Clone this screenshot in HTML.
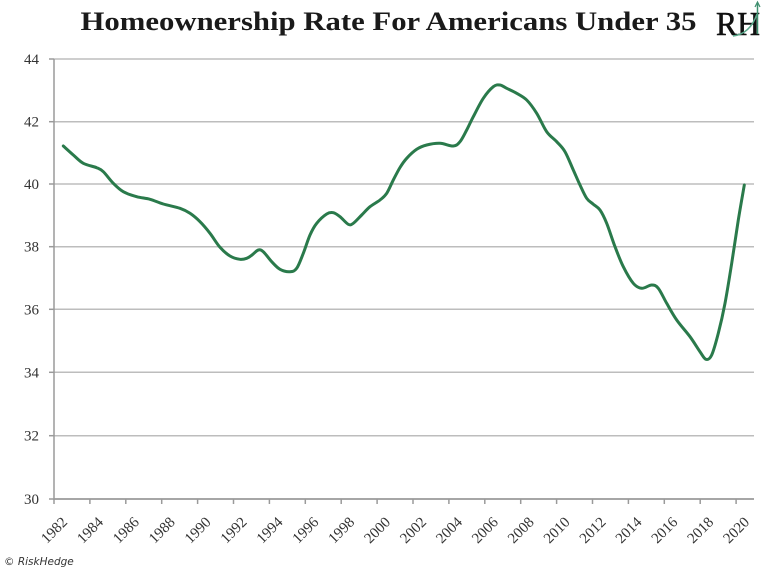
<!DOCTYPE html>
<html>
<head>
<meta charset="utf-8">
<style>
  html, body { margin:0; padding:0; background:#fff; }
  body { width:768px; height:570px; overflow:hidden; }
  svg { display:block; }
</style>
</head>
<body>
<svg width="768" height="570" viewBox="0 0 768 570" xmlns="http://www.w3.org/2000/svg">
  <rect width="768" height="570" fill="#fff"/>
  <!-- Title -->
  <text x="80.5" y="30" font-family="Liberation Serif, serif" font-weight="bold" font-size="26" fill="#1a1a1a" textLength="616" lengthAdjust="spacingAndGlyphs">Homeownership Rate For Americans Under 35</text>
  <!-- Logo -->
  <text x="716" y="35" font-family="Liberation Serif, serif" font-size="34" fill="#111" stroke="#111" stroke-width="0.6" textLength="44" lengthAdjust="spacingAndGlyphs">RH</text>
  <path d="M733 36 Q750 34 757 14" stroke="#5aa88a" stroke-width="1.5" fill="none"/>
  <line x1="757.5" y1="3" x2="757.5" y2="34" stroke="#3e8f6e" stroke-width="1.5"/>
  <path d="M755 7 L757.5 2 L760 7" stroke="#3e8f6e" stroke-width="1.2" fill="none"/>

  <!-- Gridlines -->
  <g stroke="#bdbdbd" stroke-width="1.5">
    <line x1="54" y1="59" x2="754" y2="59"/>
    <line x1="54" y1="121.7" x2="754" y2="121.7"/>
    <line x1="54" y1="184" x2="754" y2="184"/>
    <line x1="54" y1="246.7" x2="754" y2="246.7"/>
    <line x1="54" y1="309.3" x2="754" y2="309.3"/>
    <line x1="54" y1="372.3" x2="754" y2="372.3"/>
    <line x1="54" y1="435.7" x2="754" y2="435.7"/>
  </g>
  <!-- Y ticks -->
  <g stroke="#9a9a9a" stroke-width="1.5">
    <line x1="49" y1="59" x2="54" y2="59"/>
    <line x1="49" y1="121.7" x2="54" y2="121.7"/>
    <line x1="49" y1="184" x2="54" y2="184"/>
    <line x1="49" y1="246.7" x2="54" y2="246.7"/>
    <line x1="49" y1="309.3" x2="54" y2="309.3"/>
    <line x1="49" y1="372.3" x2="54" y2="372.3"/>
    <line x1="49" y1="435.7" x2="54" y2="435.7"/>
    <line x1="49" y1="499" x2="54" y2="499"/>
  </g>
  <!-- Axes -->
  <line x1="54" y1="59" x2="54" y2="500" stroke="#9a9a9a" stroke-width="1.5"/>
  <line x1="54" y1="499" x2="754" y2="499" stroke="#9a9a9a" stroke-width="1.8"/>
  <!-- X ticks -->
  <g stroke="#9a9a9a" stroke-width="1.5">
    <line x1="54" y1="499" x2="54" y2="504"/>
    <line x1="89.9" y1="499" x2="89.9" y2="504"/>
    <line x1="125.8" y1="499" x2="125.8" y2="504"/>
    <line x1="161.7" y1="499" x2="161.7" y2="504"/>
    <line x1="197.6" y1="499" x2="197.6" y2="504"/>
    <line x1="233.5" y1="499" x2="233.5" y2="504"/>
    <line x1="269.4" y1="499" x2="269.4" y2="504"/>
    <line x1="305.3" y1="499" x2="305.3" y2="504"/>
    <line x1="341.2" y1="499" x2="341.2" y2="504"/>
    <line x1="377.1" y1="499" x2="377.1" y2="504"/>
    <line x1="413" y1="499" x2="413" y2="504"/>
    <line x1="448.9" y1="499" x2="448.9" y2="504"/>
    <line x1="484.8" y1="499" x2="484.8" y2="504"/>
    <line x1="520.7" y1="499" x2="520.7" y2="504"/>
    <line x1="556.6" y1="499" x2="556.6" y2="504"/>
    <line x1="592.5" y1="499" x2="592.5" y2="504"/>
    <line x1="628.4" y1="499" x2="628.4" y2="504"/>
    <line x1="664.3" y1="499" x2="664.3" y2="504"/>
    <line x1="700.2" y1="499" x2="700.2" y2="504"/>
    <line x1="736.1" y1="499" x2="736.1" y2="504"/>
  </g>
  <!-- Y labels -->
  <g font-family="Liberation Serif, serif" font-size="15" fill="#333" text-anchor="end">
    <text x="39" y="64">44</text>
    <text x="39" y="126.7">42</text>
    <text x="39" y="189">40</text>
    <text x="39" y="251.7">38</text>
    <text x="39" y="314.3">36</text>
    <text x="39" y="377.3">34</text>
    <text x="39" y="440.7">32</text>
    <text x="39" y="504">30</text>
  </g>
  <!-- X labels -->
  <g font-family="Liberation Serif, serif" font-size="15" fill="#333" text-anchor="middle">
    <text x="54" y="535" transform="rotate(-45 54 530)">1982</text>
    <text x="89.9" y="535" transform="rotate(-45 89.9 530)">1984</text>
    <text x="125.8" y="535" transform="rotate(-45 125.8 530)">1986</text>
    <text x="161.7" y="535" transform="rotate(-45 161.7 530)">1988</text>
    <text x="197.6" y="535" transform="rotate(-45 197.6 530)">1990</text>
    <text x="233.5" y="535" transform="rotate(-45 233.5 530)">1992</text>
    <text x="269.4" y="535" transform="rotate(-45 269.4 530)">1994</text>
    <text x="305.3" y="535" transform="rotate(-45 305.3 530)">1996</text>
    <text x="341.2" y="535" transform="rotate(-45 341.2 530)">1998</text>
    <text x="377.1" y="535" transform="rotate(-45 377.1 530)">2000</text>
    <text x="413" y="535" transform="rotate(-45 413 530)">2002</text>
    <text x="448.9" y="535" transform="rotate(-45 448.9 530)">2004</text>
    <text x="484.8" y="535" transform="rotate(-45 484.8 530)">2006</text>
    <text x="520.7" y="535" transform="rotate(-45 520.7 530)">2008</text>
    <text x="556.6" y="535" transform="rotate(-45 556.6 530)">2010</text>
    <text x="592.5" y="535" transform="rotate(-45 592.5 530)">2012</text>
    <text x="628.4" y="535" transform="rotate(-45 628.4 530)">2014</text>
    <text x="664.3" y="535" transform="rotate(-45 664.3 530)">2016</text>
    <text x="700.2" y="535" transform="rotate(-45 700.2 530)">2018</text>
    <text x="736.1" y="535" transform="rotate(-45 736.1 530)">2020</text>
  </g>

  <!-- Series -->
  <polyline id="series" fill="none" stroke="#2a7a4b" stroke-width="3" stroke-linejoin="round" stroke-linecap="round"
    points="63.3,146 73.3,155 83.3,163.3 96.7,167.7 103.3,171.7 113.3,183.3 123.3,191.7 136.7,196.7 150,199.3 163.3,204 180,208.3 190,213.3 200,221.7 210,233.3 220,247.3 230,256 240,259.3 246.7,258.3 252,255 258.3,250 263.3,251.7 271.7,261.7 280,269.3 290,271.7 296.7,268.3 303.3,253.3 310,235 316.7,223.3 326.7,214 333.3,212.7 340,216.7 348.3,224.3 353.3,223.3 361.7,215 370,206.7 380,200 386.7,193.3 393.3,180 400,167.5 406.7,158.3 416.7,149.3 426.7,145 440,143.3 453.3,146 460,141.7 466.7,130 473.3,116.7 483.3,98.3 493.3,86.7 500,85 506.7,88.3 516.7,93.3 526.7,100 536.7,113.3 546.7,131.7 556.7,141.7 565,151.7 573.3,170 580,185 586.7,198.3 593,204 600,210 606.7,223.3 615,246.7 623.3,266.7 633.3,283.3 641.7,288.3 651.7,285 658.3,288.3 666.7,303.3 676.7,320 690,336.7 700,351.7 706,359.3 711.7,355 718.3,333.3 725,303.3 731.7,263.3 738.3,220 744.3,185"/>

  <!-- Footer -->
  <text x="4" y="565" font-family="DejaVu Sans, Liberation Sans, sans-serif" font-style="italic" font-size="10.5" fill="#333">© RiskHedge</text>
</svg>
<script>
(function(){
  try {
    var pl = document.getElementById('series');
    var pts = pl.getAttribute('points').trim().split(/\s+/).map(function(s){var a=s.split(',');return [parseFloat(a[0]),parseFloat(a[1])];});
    var d = 'M' + pts[0][0] + ',' + pts[0][1];
    for (var i=0;i<pts.length-1;i++){
      var p0 = pts[i-1]||pts[i], p1=pts[i], p2=pts[i+1], p3=pts[i+2]||pts[i+1];
      var c1x = p1[0]+(p2[0]-p0[0])/6, c1y = p1[1]+(p2[1]-p0[1])/6;
      var c2x = p2[0]-(p3[0]-p1[0])/6, c2y = p2[1]-(p3[1]-p1[1])/6;
      d += ' C'+c1x.toFixed(2)+','+c1y.toFixed(2)+' '+c2x.toFixed(2)+','+c2y.toFixed(2)+' '+p2[0]+','+p2[1];
    }
    var path = document.createElementNS('http://www.w3.org/2000/svg','path');
    path.setAttribute('d', d);
    path.setAttribute('fill','none');
    path.setAttribute('stroke','#2a7a4b');
    path.setAttribute('stroke-width','3');
    path.setAttribute('stroke-linejoin','round');
    path.setAttribute('stroke-linecap','round');
    pl.parentNode.replaceChild(path, pl);
  } catch(e) {}
})();
</script>
</body>
</html>
